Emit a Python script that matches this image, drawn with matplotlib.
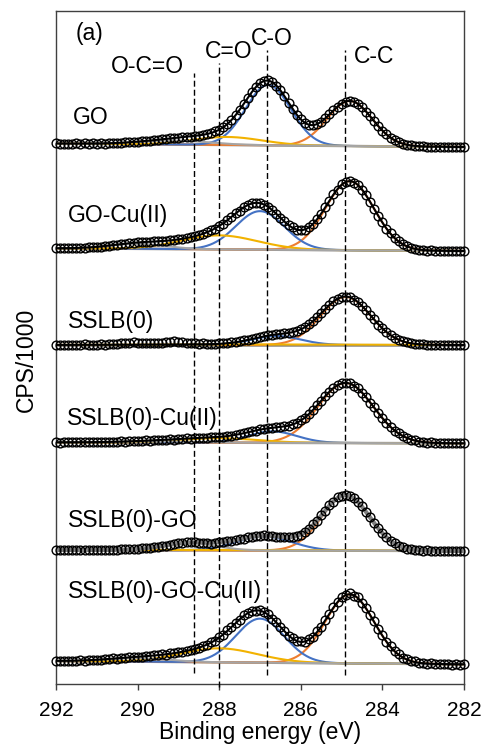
import numpy as np
import matplotlib
matplotlib.use("Agg")
import matplotlib.pyplot as plt

plt.rcParams["font.family"] = ["Liberation Sans", "DejaVu Sans"]

# Binding energy grid of the measured points (eV), from 292.0 down to 282.0
energy = np.round(np.linspace(292.0, 282.0, 101), 1)

samples = ["GO", "GO-Cu(II)", "SSLB(0)", "SSLB(0)-Cu(II)", "SSLB(0)-GO", "SSLB(0)-GO-Cu(II)"]

# stacking offset of each spectrum and rise of its linear background at 292 eV
offsets = [537.0, 433.0, 339.0, 240.7, 133.0, 19.7]
bg_rise = [3.5, 2.7, 0.0, 1.0, 1.0, 3.3]

# measured intensities above the stacking offset, one row per 1 eV
counts_go = [
    3.6, 3.2, 3.5, 3.4, 3.3, 3.6, 3.2, 3.6, 3.3, 3.7,
    3.5, 3.9, 3.5, 3.9, 4.0, 4.3, 4.1, 4.6, 4.9, 5.0,
    5.5, 5.6, 6.2, 6.4, 7.0, 7.1, 7.8, 8.0, 8.7, 8.9,
    9.5, 9.6, 10.4, 10.5, 11.3, 11.4, 12.4, 13.0, 14.2, 15.6,
    17.5, 20.1, 23.4, 27.5, 31.9, 37.0, 43.3, 49.4, 55.0, 60.0,
    63.7, 65.9, 66.6, 64.8, 61.4, 56.6, 50.8, 44.5, 38.2, 32.4,
    27.7, 24.2, 22.3, 21.9, 23.0, 25.4, 28.7, 32.6, 36.7, 40.5,
    43.5, 45.4, 46.1, 45.2, 43.0, 39.7, 35.4, 30.7, 25.7, 20.9,
    16.5, 12.6, 9.4, 6.8, 4.8, 3.3, 2.3, 1.6, 1.1, 0.8,
    0.6, 0.4, 0.3, 0.2, 0.1, 0.3, 0.0, 0.2, -0.1, 0.1,
    0.0]
counts_go_cu = [
    2.8, 2.6, 2.9, 2.7, 3.0, 2.9, 3.3, 3.2, 3.8, 3.7,
    4.3, 4.5, 5.2, 5.4, 6.2, 6.3, 7.2, 7.3, 8.1, 8.1,
    8.8, 8.7, 9.3, 9.1, 9.7, 9.6, 10.2, 10.0, 10.8, 10.9,
    11.8, 12.0, 13.2, 13.6, 14.9, 15.7, 17.5, 18.6, 20.7, 22.4,
    25.3, 27.5, 31.2, 33.8, 37.7, 40.3, 43.9, 45.6, 47.8, 48.0,
    48.2, 46.1, 44.4, 40.6, 37.4, 33.0, 29.8, 25.6, 23.6, 21.1,
    21.2, 21.3, 24.1, 26.8, 32.3, 37.1, 44.2, 49.9, 56.9, 61.4,
    66.8, 68.6, 70.3, 68.4, 66.3, 60.9, 56.2, 48.6, 42.5, 34.8,
    28.9, 22.2, 17.6, 12.7, 9.7, 6.6, 5.0, 3.1, 2.4, 1.3,
    1.1, 0.5, 0.6, 0.2, 0.4, 0.0, 0.3, -0.1, 0.2, -0.1,
    0.1]
counts_sslb = [
    0.3, -0.2, 0.4, 0.1, 0.5, 0.0, 0.3, 0.6, 0.2, 0.5,
    0.4, 0.8, 0.5, 1.0, 1.4, 1.1, 1.7, 2.3, 2.0, 2.6,
    2.3, 1.9, 2.2, 1.6, 2.0, 2.4, 2.1, 2.8, 3.2, 3.6,
    3.3, 2.9, 2.4, 1.9, 1.6, 1.3, 1.6, 1.2, 1.5, 1.3,
    1.7, 1.9, 2.4, 2.6, 3.3, 3.6, 4.6, 5.0, 6.3, 6.8,
    8.2, 8.6, 9.8, 9.9, 10.9, 10.8, 11.8, 11.9, 13.2, 14.1,
    15.9, 17.6, 20.9, 23.6, 28.2, 31.6, 36.5, 39.8, 44.0, 45.9,
    48.4, 48.2, 48.1, 45.5, 43.2, 38.8, 35.1, 29.8, 25.7, 20.5,
    16.9, 12.7, 10.1, 7.1, 5.5, 3.6, 2.8, 1.6, 1.3, 0.6,
    0.6, 0.2, 0.4, 0.0, 0.3, 0.1, -0.1, 0.2, 0.0, 0.3,
    0.1]
counts_sslb_cu = [
    1.2, 0.8, 1.3, 0.9, 1.2, 0.9, 1.3, 1.0, 1.4, 1.0,
    1.4, 1.1, 1.5, 1.2, 1.7, 1.4, 2.0, 1.6, 2.2, 1.9,
    2.5, 2.2, 2.9, 2.6, 3.3, 2.9, 3.6, 3.4, 4.1, 3.8,
    4.5, 4.3, 5.0, 4.7, 5.4, 5.1, 5.8, 5.5, 6.2, 6.0,
    6.7, 6.6, 7.5, 7.6, 8.7, 9.1, 10.4, 10.9, 12.2, 12.7,
    14.0, 14.2, 15.3, 15.3, 16.1, 16.1, 17.2, 17.5, 19.1, 20.3,
    23.2, 25.5, 29.8, 33.2, 38.3, 42.4, 47.6, 51.4, 55.8, 58.0,
    60.6, 60.3, 60.2, 57.6, 55.1, 50.6, 46.3, 40.8, 36.0, 30.1,
    25.6, 20.3, 16.8, 12.6, 10.2, 7.2, 5.7, 3.8, 3.1, 1.8,
    1.6, 0.8, 0.9, 0.3, 0.6, 0.1, 0.4, 0.0, 0.3, -0.1,
    0.2]
counts_sslb_go = [
    1.1, 0.8, 1.2, 0.9, 1.3, 0.8, 1.3, 1.0, 1.4, 0.9,
    1.3, 1.0, 1.4, 1.1, 1.4, 1.5, 1.6, 1.7, 2.0, 1.9,
    2.4, 2.6, 3.1, 3.3, 4.0, 4.4, 5.3, 5.4, 6.5, 6.8,
    7.8, 8.3, 8.9, 9.2, 9.0, 8.4, 8.0, 7.6, 7.5, 7.9,
    8.6, 9.3, 9.7, 10.4, 10.9, 11.9, 12.5, 13.6, 14.0, 14.9,
    15.0, 15.6, 15.1, 15.3, 14.4, 14.5, 13.6, 14.2, 14.0, 15.4,
    16.5, 19.4, 22.0, 26.6, 30.4, 36.0, 40.3, 45.9, 49.5, 53.6,
    55.0, 56.4, 54.7, 53.2, 48.8, 45.0, 38.9, 34.1, 27.8, 23.3,
    17.7, 14.3, 10.1, 7.9, 5.2, 4.1, 2.4, 2.0, 1.0, 1.0,
    0.4, 0.6, 0.2, 0.4, 0.0, 0.3, 0.0, 0.2, -0.1, 0.2,
    0.0]
counts_sslb_go_cu = [
    3.5, 3.2, 3.6, 3.4, 3.8, 3.5, 4.0, 3.8, 4.3, 4.2,
    4.7, 4.7, 5.3, 5.2, 5.9, 5.8, 6.6, 6.5, 7.2, 7.1,
    7.8, 7.7, 8.4, 8.3, 9.1, 8.9, 9.9, 9.8, 10.9, 10.9,
    12.2, 12.4, 13.8, 14.1, 15.8, 16.3, 18.4, 19.5, 22.1, 23.8,
    27.3, 29.6, 34.0, 37.0, 41.6, 44.5, 48.9, 51.3, 53.8, 53.6,
    54.1, 51.9, 50.0, 45.6, 42.5, 37.2, 33.5, 28.8, 26.4, 23.4,
    23.2, 22.7, 25.3, 27.6, 33.0, 37.8, 44.7, 50.4, 57.4, 62.0,
    67.2, 69.0, 71.0, 68.8, 67.1, 61.4, 56.6, 49.0, 43.1, 35.0,
    29.5, 22.4, 18.2, 12.9, 10.4, 6.6, 5.6, 3.2, 2.9, 1.4,
    1.5, 0.6, 0.9, 0.2, 0.5, 0.0, 0.4, -0.2, 0.3, -0.2,
    0.2]
spectra = [counts_go, counts_go_cu, counts_sslb, counts_sslb_cu,
           counts_sslb_go, counts_sslb_go_cu]

# fitted Gaussian components per sample: (centre eV, height, FWHM eV); None = not fitted
peak_cc = [(284.8, 45.0, 1.3), (284.8, 69.0, 1.4), (284.9, 48.0, 1.45),
           (284.9, 60.0, 1.6), (284.9, 55.0, 1.4), (284.8, 69.0, 1.4)]
peak_co = [(286.8, 60.5, 1.3), (287.0, 38.5, 1.4), (286.6, 9.0, 1.4),
           (286.7, 11.5, 1.4), (286.9, 14.0, 1.6), (287.0, 44.0, 1.4)]
peak_c_dbl_o = [(287.8, 8.0, 2.0), (288.0, 14.0, 2.2), (287.5, 0.6, 5.0),
                (288.0, 4.5, 2.2), (287.5, 0.5, 5.0), (288.0, 14.0, 2.2)]
peak_o_c_o = [(289.1, 4.0, 2.0), (290.0, 5.0, 1.6), None,
              (289.5, 1.2, 2.0), (288.7, 7.0, 1.5), (290.0, 3.5, 1.8)]

# reference binding energies marked by dashed lines and their labels
ref_energy = [288.62, 288.0, 286.84, 284.92]
ref_top = [611, 621, 634, 634]
ref_bottom = [11, -3, 9, 9]
ref_labels = ["O-C=O", "C=O", "C-O", "C-C"]
ref_label_x = [289.77, 287.76, 286.70, 284.20]
ref_label_y = [611, 626, 639, 621]

sample_label_y = [560, 462, 356, 259, 157, 86]
sample_label_x = [291.58, 291.71, 291.71, 291.73, 291.71, 291.71]

comp_colors = ["#ED7D31", "#4472C4", "#F2B200", "#A5A5A5"]
fit_colors = ["black", "black", "black", "black", "#7F7F7F", "black"]
fit_widths = [1.5, 1.5, 1.5, 1.5, 3.0, 1.5]


def gaussian(x, centre, height, fwhm):
    return height * np.exp(-4.0 * np.log(2.0) * ((x - centre) / fwhm) ** 2)


fig = plt.figure(figsize=(4.89, 7.49), dpi=100)
ax = fig.add_axes([56 / 489, 65 / 749, 408 / 489, 673 / 749])

grid = np.linspace(292.0, 282.0, 801)
for i in range(len(samples)):
    base = offsets[i] + bg_rise[i] * (grid - 282.0) / 10.0
    ax.plot(grid, base, color="#8A8580", lw=1.8, zorder=2)
    fit = base.copy()
    comps = [peak_cc[i], peak_co[i], peak_c_dbl_o[i], peak_o_c_o[i]]
    for comp, col in zip(comps, comp_colors):
        if comp is None:
            continue
        g = gaussian(grid, *comp)
        fit += g
        ax.plot(grid, base + g, color=col, lw=1.5, zorder=3)
    ax.plot(grid, fit, color=fit_colors[i], lw=fit_widths[i], zorder=4)
    ax.plot(energy, offsets[i] + np.asarray(spectra[i]), "o", ms=6.3,
            mfc="none", mec="black", mew=1.0, clip_on=False, zorder=5)
    ax.text(sample_label_x[i], sample_label_y[i], samples[i], fontsize=16.5,
            ha="left", va="baseline", zorder=7)

for e, y0, y1 in zip(ref_energy, ref_bottom, ref_top):
    ax.plot([e, e], [y0, y1], color="black", lw=1.0,
            linestyle=(0, (4.3, 2.2)), clip_on=False, zorder=6)
for lab, lx, ly in zip(ref_labels, ref_label_x, ref_label_y):
    ax.text(lx, ly, lab, fontsize=16.5, ha="center", va="baseline", zorder=7)

ax.text(291.17, 644, "(a)", fontsize=16.5, ha="center", va="baseline")

ax.set_xlim(292, 282)
ax.set_ylim(0, 673)
ax.set_xticks([292, 290, 288, 286, 284, 282])
ax.set_yticks([])
ax.tick_params(axis="x", direction="out", length=4.3, width=1.0,
               labelsize=15, pad=8, color="#404040")
for sp in ax.spines.values():
    sp.set_color("#404040")
    sp.set_linewidth(1.0)

ax.set_xlabel("Binding energy (eV)", fontsize=16.5, labelpad=0.5)
ax.set_ylabel("CPS/1000", fontsize=16.5)
ax.yaxis.set_label_coords(-0.045, 0.481)

fig.savefig("out.png", dpi=100)
